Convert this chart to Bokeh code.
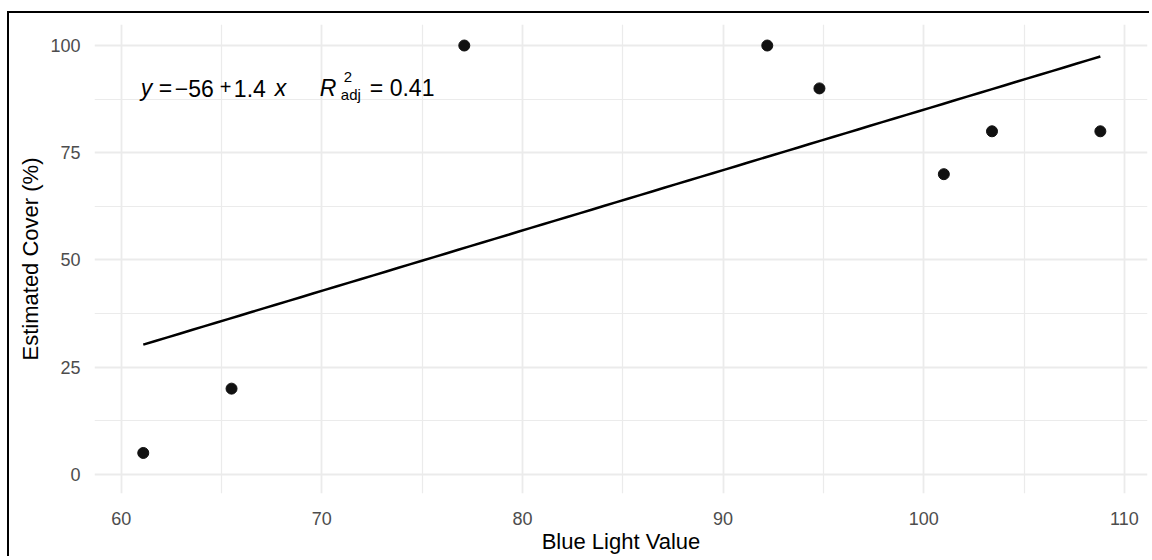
import numpy as np
from bokeh.plotting import figure
from bokeh.models import ColumnDataSource, FixedTicker, Range1d
from bokeh.core.properties import value
from bokeh.embed import file_html
from bokeh.resources import INLINE

# ---- data ----
blue_light = [61.1, 65.5, 77.1, 92.2, 94.8, 101.0, 103.4, 108.8]
est_cover = [5, 20, 100, 100, 90, 70, 80, 80]
x_ticks = [60, 70, 80, 90, 100, 110]
y_ticks = [0, 25, 50, 75, 100]
eq_intercept_label = "\u221256"
eq_slope_label = "1.4"
r2_label = "0.41"

FONT = "Liberation Sans"

# linear fit (least squares, as in the reference's smooth line)
slope, intercept = np.polyfit(blue_light, est_cover, 1)
fit_x = np.linspace(min(blue_light), max(blue_light), 80)
fit_y = intercept + slope * fit_x

p = figure(
    frame_width=1053, frame_height=469,
    min_border_left=85, min_border_right=2, min_border_top=11, min_border_bottom=10,
    x_range=Range1d(58.67, 111.15), y_range=Range1d(-4.45, 104.9),
    output_backend="svg", toolbar_location=None,
    background_fill_color="white", border_fill_color="white",
)
p.margin = (11, 0, 0, 7)
p.styles = {"border-top": "2px solid black", "border-left": "2px solid black"}
p.outline_line_color = None

# grid
p.xgrid.ticker = FixedTicker(ticks=x_ticks, minor_ticks=[65, 75, 85, 95, 105])
p.ygrid.ticker = FixedTicker(ticks=y_ticks, minor_ticks=[12.5, 37.5, 62.5, 87.5])
for g in (p.xgrid, p.ygrid):
    g.grid_line_color = "#EBEBEB"
    g.grid_line_width = 1.8
    g.minor_grid_line_color = "#EBEBEB"
    g.minor_grid_line_width = 1.2

# axes
p.xaxis.ticker = FixedTicker(ticks=x_ticks)
p.yaxis.ticker = FixedTicker(ticks=y_ticks)
for ax in (p.xaxis, p.yaxis):
    ax.axis_line_color = None
    ax.major_tick_line_color = None
    ax.minor_tick_line_color = None
    ax.major_label_text_font = FONT
    ax.major_label_text_font_size = "18px"
    ax.major_label_text_color = "#4D4D4D"
    ax.axis_label_text_font = FONT
    ax.axis_label_text_font_size = "22px"
    ax.axis_label_text_font_style = "normal"
    ax.axis_label_text_color = "black"
p.xaxis.axis_label = "Blue Light Value"
p.yaxis.axis_label = "Estimated Cover (%)"
p.xaxis.major_label_standoff = 12
p.yaxis.major_label_standoff = 8
p.xaxis.axis_label_standoff = 1
p.yaxis.axis_label_standoff = 4

# fit line
p.line(fit_x, fit_y, line_color="black", line_width=2.5)

# points
src = ColumnDataSource(dict(x=blue_light, y=est_cover))
p.scatter("x", "y", source=src, size=11, fill_color="#111111", line_color="#111111")

# equation label (pieces)
ax0, ay0 = 60.98, 90.0
def piece(txt, dx, dy=0, size="23px", style="normal"):
    p.text(x=[ax0], y=[ay0], text=[txt], x_offset=dx, y_offset=dy,
           text_font=value(FONT), text_font_size=size, text_font_style=style,
           text_color="black", text_align="left", text_baseline="alphabetic")

piece("y", 0, style="italic")
piece("=", 18)
piece(eq_intercept_label, 34)
piece("+", 79, size="20px", dy=-1)
piece(eq_slope_label, 93)
piece("x", 134, style="italic")
piece("R", 179, style="italic")
piece("2", 203, dy=-11, size="15px")
piece("adj", 200, dy=6, size="15px")
piece("= " + r2_label, 229)

open("out.html", "w").write(file_html(p, INLINE))
